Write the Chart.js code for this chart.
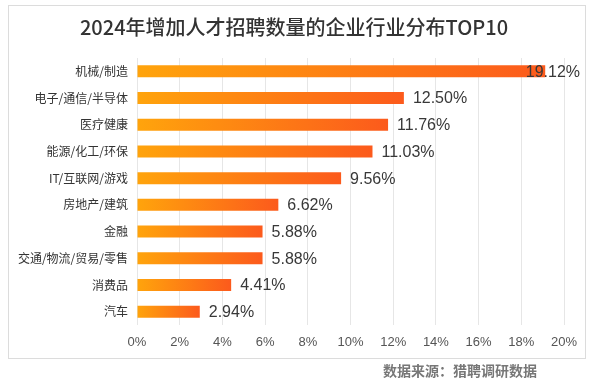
<!DOCTYPE html>
<html>
<head>
<meta charset="utf-8">
<script src="https://cdn.jsdelivr.net/npm/chart.js@4/dist/chart.umd.min.js"></script>
<style>
  html, body { margin: 0; padding: 0; background: #fff; }
  #industryChart { display: block; }
</style>
</head>
<body>
<canvas id="industryChart" width="604" height="384"></canvas>
<script>
var chartTitle = '2024年增加人才招聘数量的企业行业分布TOP10';
var sourceNote = '数据来源：猎聘调研数据';
var industries = ['机械/制造', '电子/通信/半导体', '医疗健康', '能源/化工/环保', 'IT/互联网/游戏',
  '房地产/建筑', '金融', '交通/物流/贸易/零售', '消费品', '汽车'];
var shares = [19.12, 12.50, 11.76, 11.03, 9.56, 6.62, 5.88, 5.88, 4.41, 2.94];
var axisMax = 20;
var axisStep = 2;

var CJK = '"Noto Sans CJK SC", "Noto Sans", sans-serif';
var LATIN = '"Liberation Sans", Arial, "Noto Sans CJK SC", sans-serif';

// frame, title, source note and value labels
var decorations = {
  id: 'decorations',
  beforeDraw: function (chart) {
    var ctx = chart.ctx;
    ctx.save();
    ctx.fillStyle = '#fff';
    ctx.fillRect(0, 0, chart.width, chart.height);
    ctx.strokeStyle = '#dcdcdc';
    ctx.lineWidth = 1;
    ctx.strokeRect(8.5, 5.5, 577, 353);
    ctx.restore();
  },
  afterDraw: function (chart) {
    var ctx = chart.ctx;
    ctx.save();
    ctx.fillStyle = '#333';
    ctx.textAlign = 'center';
    ctx.textBaseline = 'middle';
    ctx.font = '500 20px ' + CJK;
    ctx.fillText(chartTitle, 294, 27);

    ctx.fillStyle = '#777';
    ctx.textAlign = 'right';
    ctx.font = 'bold 14px ' + CJK;
    ctx.fillText(sourceNote, 537, 371);

    var meta = chart.getDatasetMeta(0);
    ctx.fillStyle = '#383838';
    ctx.textAlign = 'left';
    ctx.font = '16px ' + LATIN;
    meta.data.forEach(function (bar, i) {
      var txt = shares[i].toFixed(2) + '%';
      var w = ctx.measureText(txt).width;
      var x = Math.min(bar.x + 9, 580 - w);
      ctx.fillText(txt, x, bar.y + 1);
    });
    ctx.restore();
  }
};

new Chart('industryChart', {
  type: 'bar',
  data: {
    labels: industries,
    datasets: [{
      data: shares,
      barPercentage: 0.45,
      categoryPercentage: 1,
      borderWidth: 0,
      backgroundColor: function (c) {
        var chart = c.chart;
        if (!chart.chartArea || c.type !== 'data') return '#FFA40C';
        var xs = chart.scales.x;
        var x0 = xs.getPixelForValue(0);
        var x1 = xs.getPixelForValue(shares[c.dataIndex]);
        var g = chart.ctx.createLinearGradient(x0, 0, x1, 0);
        g.addColorStop(0, '#FFA40C');
        g.addColorStop(1, '#FC5A1C');
        return g;
      }
    }]
  },
  options: {
    indexAxis: 'y',
    responsive: false,
    animation: false,
    layout: { padding: { top: 58, right: 40, bottom: 0, left: 0 } },
    plugins: {
      legend: { display: false },
      tooltip: { enabled: false }
    },
    scales: {
      x: {
        min: 0,
        max: axisMax,
        border: { display: false },
        grid: { color: '#e6e6e6', drawTicks: false },
        ticks: {
          stepSize: axisStep,
          padding: 10,
          color: '#555',
          font: { size: 13, family: LATIN },
          callback: function (v) { return v + '%'; }
        },
        afterFit: function (s) { s.height = 59; }
      },
      y: {
        border: { display: false },
        grid: { display: false, drawTicks: false },
        ticks: {
          padding: 9,
          color: '#333',
          font: { size: 12, family: CJK }
        },
        afterFit: function (s) { s.width = 137; }
      }
    }
  },
  plugins: [decorations]
});
</script>
</body>
</html>
